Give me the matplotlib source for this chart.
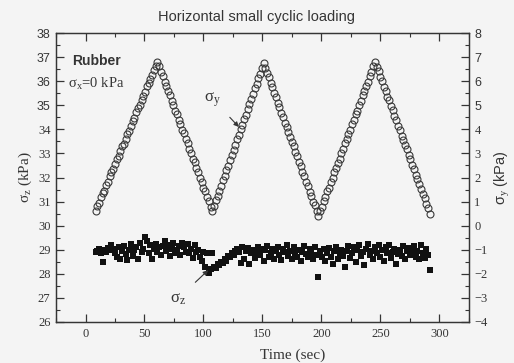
import matplotlib
matplotlib.use('Agg')
import matplotlib.pyplot as plt
import matplotlib.ticker as ticker

# sampling time (sec)
time_s = [8.5, 10, 11.5, 13, 14.5, 16, 17.5, 19, 20.5, 22,
          23.5, 25, 26.5, 28, 29.5, 31, 32.5, 34, 35.5, 37,
          38.5, 40, 41.5, 43, 44.5, 46, 47.5, 49, 50.5, 52,
          53.5, 55, 56.5, 58, 59.5, 61, 62.5, 64, 65.5, 67,
          68.5, 70, 71.5, 73, 74.5, 76, 77.5, 79, 80.5, 82,
          83.5, 85, 86.5, 88, 89.5, 91, 92.5, 94, 95.5, 97,
          98.5, 100, 101.5, 103, 104.5, 106, 107.5, 109, 110.5, 112,
          113.5, 115, 116.5, 118, 119.5, 121, 122.5, 124, 125.5, 127,
          128.5, 130, 131.5, 133, 134.5, 136, 137.5, 139, 140.5, 142,
          143.5, 145, 146.5, 148, 149.5, 151, 152.5, 154, 155.5, 157,
          158.5, 160, 161.5, 163, 164.5, 166, 167.5, 169, 170.5, 172,
          173.5, 175, 176.5, 178, 179.5, 181, 182.5, 184, 185.5, 187,
          188.5, 190, 191.5, 193, 194.5, 196, 197.5, 199, 200.5, 202,
          203.5, 205, 206.5, 208, 209.5, 211, 212.5, 214, 215.5, 217,
          218.5, 220, 221.5, 223, 224.5, 226, 227.5, 229, 230.5, 232,
          233.5, 235, 236.5, 238, 239.5, 241, 242.5, 244, 245.5, 247,
          248.5, 250, 251.5, 253, 254.5, 256, 257.5, 259, 260.5, 262,
          263.5, 265, 266.5, 268, 269.5, 271, 272.5, 274, 275.5, 277,
          278.5, 280, 281.5, 283, 284.5, 286, 287.5, 289, 290.5, 292]

# sigma_y (kPa), right axis
sigma_y = [0.60, 0.80, 0.93, 1.18, 1.35, 1.45, 1.70, 1.82, 2.05, 2.22,
           2.35, 2.58, 2.76, 2.88, 3.12, 3.30, 3.40, 3.60, 3.82, 3.95,
           4.15, 4.35, 4.48, 4.70, 4.88, 5.00, 5.22, 5.40, 5.55, 5.78,
           5.93, 6.10, 6.25, 6.46, 6.65, 6.80,
           6.62, 6.38, 6.22, 5.98, 5.82, 5.58, 5.42, 5.18, 5.03, 4.78,
           4.62, 4.38, 4.24, 3.97, 3.83, 3.58, 3.42, 3.18, 3.02, 2.77,
           2.63, 2.38, 2.22, 1.98, 1.82, 1.58, 1.42, 1.18, 1.02, 0.78, 0.60,
           0.82, 1.05, 1.22, 1.46, 1.64, 1.90, 2.06, 2.32, 2.49, 2.74,
           2.92, 3.16, 3.34, 3.58, 3.76, 4.02, 4.18, 4.44, 4.61, 4.86,
           5.04, 5.28, 5.46, 5.70, 5.88, 6.13, 6.30, 6.55, 6.75,
           6.56, 6.32, 6.16, 5.91, 5.75, 5.51, 5.34, 5.10, 4.93, 4.69,
           4.52, 4.28, 4.11, 3.87, 3.70, 3.46, 3.29, 3.05, 2.89, 2.64,
           2.48, 2.23, 2.07, 1.82, 1.66, 1.41, 1.25, 1.00, 0.84, 0.62, 0.40,
           0.62, 0.78, 1.02, 1.18, 1.42, 1.58, 1.82, 1.98, 2.22, 2.38,
           2.62, 2.78, 3.03, 3.17, 3.42, 3.58, 3.82, 3.98, 4.22, 4.38,
           4.62, 4.78, 5.03, 5.18, 5.42, 5.58, 5.82, 5.98, 6.22, 6.38,
           6.62, 6.80,
           6.58, 6.41, 6.17, 6.01, 5.76, 5.60, 5.36, 5.20, 4.95, 4.79,
           4.55, 4.38, 4.14, 3.98, 3.74, 3.57, 3.33, 3.17, 2.92, 2.76,
           2.52, 2.36, 2.11, 1.95, 1.71, 1.54, 1.30, 1.14, 0.90, 0.73, 0.50]

# sigma_z (kPa), left axis
sigma_z = [28.90, 28.95, 29.02, 28.85, 28.50, 29.00, 28.92, 29.08, 28.98, 29.20,
           29.05, 28.88, 28.70, 29.10, 28.62, 28.95, 29.15, 28.82, 28.58, 29.00,
           29.22, 28.75, 28.98, 29.12, 28.60, 29.30, 28.90, 29.05, 29.55, 29.35,
           28.85, 29.18, 28.62, 29.02, 29.25, 28.90, 29.10, 28.78, 29.15, 29.35,
           28.95, 29.20, 28.72, 29.05, 29.28, 28.88, 28.98, 29.15, 28.80, 29.30,
           29.10, 28.92, 29.25, 28.85, 29.05, 28.65, 29.18, 28.90, 29.00, 28.70,
           28.55, 28.92, 28.30, 28.88, 28.05, 28.20, 28.85, 28.30, 28.25, 28.40,
           28.35, 28.50, 28.45, 28.60, 28.55, 28.72, 28.68, 28.85, 28.80, 28.95,
           29.05, 28.90, 28.45, 29.10, 28.60, 28.95, 29.08, 28.40, 28.85, 29.00,
           28.65, 28.92, 29.10, 28.78, 29.05, 28.55, 28.98, 29.15, 28.70, 28.88,
           29.05, 28.62, 28.95, 29.12, 28.80, 28.58, 29.02, 28.90, 29.18, 28.75,
           28.95, 28.60, 29.10, 28.85, 28.70, 29.00, 28.55, 28.92, 29.15, 28.82,
           28.68, 29.02, 28.88, 28.60, 29.10, 28.78, 27.85, 28.95, 28.70, 29.05,
           28.55, 28.85, 29.08, 28.70, 28.40, 28.95, 29.12, 28.62, 28.88, 29.00,
           28.75, 28.30, 28.95, 29.15, 28.65, 28.85, 29.10, 28.50, 28.98, 29.20,
           28.72, 28.90, 28.38, 29.05, 29.22, 28.80, 28.95, 28.60, 29.12, 28.85,
           29.18, 28.70, 28.98, 28.55, 29.10, 28.88, 29.20, 28.65, 28.92, 29.05,
           28.40, 28.82, 29.00, 28.75, 29.15, 28.62, 28.95, 29.08, 28.78, 28.90,
           29.15, 28.70, 28.95, 28.60, 29.20, 28.85, 28.65, 29.05, 28.80, 28.15]

ink = '#353535'
serif = 'Liberation Serif'
sans = 'Liberation Sans'

# subscripts drawn by mathtext in a Times-like face
plt.rcParams['mathtext.fontset'] = 'custom'
plt.rcParams['mathtext.rm'] = serif
plt.rcParams['mathtext.it'] = serif
plt.rcParams['mathtext.bf'] = serif

fig = plt.figure(figsize=(5.14, 3.63), dpi=100, facecolor='#f4f4f4')
ax = fig.add_axes([0.109, 0.113, 0.803, 0.796])
ax.set_facecolor('#f4f4f4')
ax2 = ax.twinx()

ax.plot(time_s, sigma_z, linestyle='none', marker='s', markersize=4.3,
        color='#111111', markeredgewidth=0)
ax2.plot(time_s, sigma_y, linestyle='none', marker='o', markersize=5,
         markerfacecolor='none', markeredgecolor='#3a3a3a', markeredgewidth=0.8)

ax.set_xlim(-25, 325)
ax.set_ylim(26, 38)
ax2.set_ylim(-4, 8)

ax.xaxis.set_major_locator(ticker.MultipleLocator(50))
ax.xaxis.set_minor_locator(ticker.MultipleLocator(25))
ax.yaxis.set_major_locator(ticker.MultipleLocator(1))
ax.yaxis.set_minor_locator(ticker.MultipleLocator(0.5))
ax2.yaxis.set_major_locator(ticker.MultipleLocator(1))
ax2.yaxis.set_minor_locator(ticker.MultipleLocator(0.5))
ax2.yaxis.set_major_formatter(ticker.FuncFormatter(lambda v, p: '%d' % v if v >= 0 else '\u2212%d' % -v))

ax.tick_params(axis='both', which='major', direction='in', length=6, width=0.9,
               color=ink, labelcolor=ink, labelsize=9, top=True, right=False, pad=4)
ax.tick_params(axis='both', which='minor', direction='in', length=3, width=0.8,
               color=ink, top=True, right=False)
ax2.tick_params(axis='y', which='major', direction='in', length=6, width=0.9,
                color=ink, labelcolor=ink, labelsize=9, pad=4)
ax2.tick_params(axis='y', which='minor', direction='in', length=3, width=0.8, color=ink)

for a in (ax, ax2):
    for s in a.spines.values():
        s.set_color(ink)
        s.set_linewidth(0.9)

fig.canvas.draw()
for lab in ax.get_xticklabels():
    lab.set_family(serif)
for lab in ax.get_yticklabels():
    lab.set_family(sans if lab.get_position()[1] >= 35 else serif)
for lab in ax2.get_yticklabels():
    lab.set_family(sans if lab.get_position()[1] >= 5 else serif)

fig.text(0.5, 0.952, 'Horizontal small cyclic loading', ha='center', va='center',
         fontsize=10.5, family=sans, color=ink)
fig.text(0.57, 0.022, 'Time (sec)', ha='center', va='center', fontsize=11,
         family=serif, color=ink)
ax.set_ylabel('\u03c3$_z$ (kPa)', fontsize=11, family=serif, color=ink, labelpad=2)
ax2.set_ylabel('\u03c3$_y$ (kPa)', fontsize=10.5, family=sans, color=ink, labelpad=4)

ax.text(0.039, 0.903, 'Rubber', transform=ax.transAxes, fontsize=10,
        fontweight='bold', family=sans, color=ink, va='center')
ax.text(0.029, 0.824, '\u03c3$_x$=0 kPa', transform=ax.transAxes, fontsize=10.5,
        family=serif, color=ink, va='center')

ax2.annotate('\u03c3$_y$', xy=(130, 4.1), xytext=(108, 5.25), fontsize=12,
             family=serif, color=ink, ha='center', va='center',
             arrowprops=dict(arrowstyle='-|>', color=ink, lw=0.8,
                             mutation_scale=7, shrinkA=6, shrinkB=0))
ax.annotate('\u03c3$_z$', xy=(104, 28.15), xytext=(78, 26.95), fontsize=12,
            family=serif, color=ink, ha='center', va='center',
            arrowprops=dict(arrowstyle='-|>', color=ink, lw=0.8,
                            mutation_scale=7, shrinkA=7, shrinkB=0))

fig.savefig('out.png', dpi=100, facecolor=fig.get_facecolor())
